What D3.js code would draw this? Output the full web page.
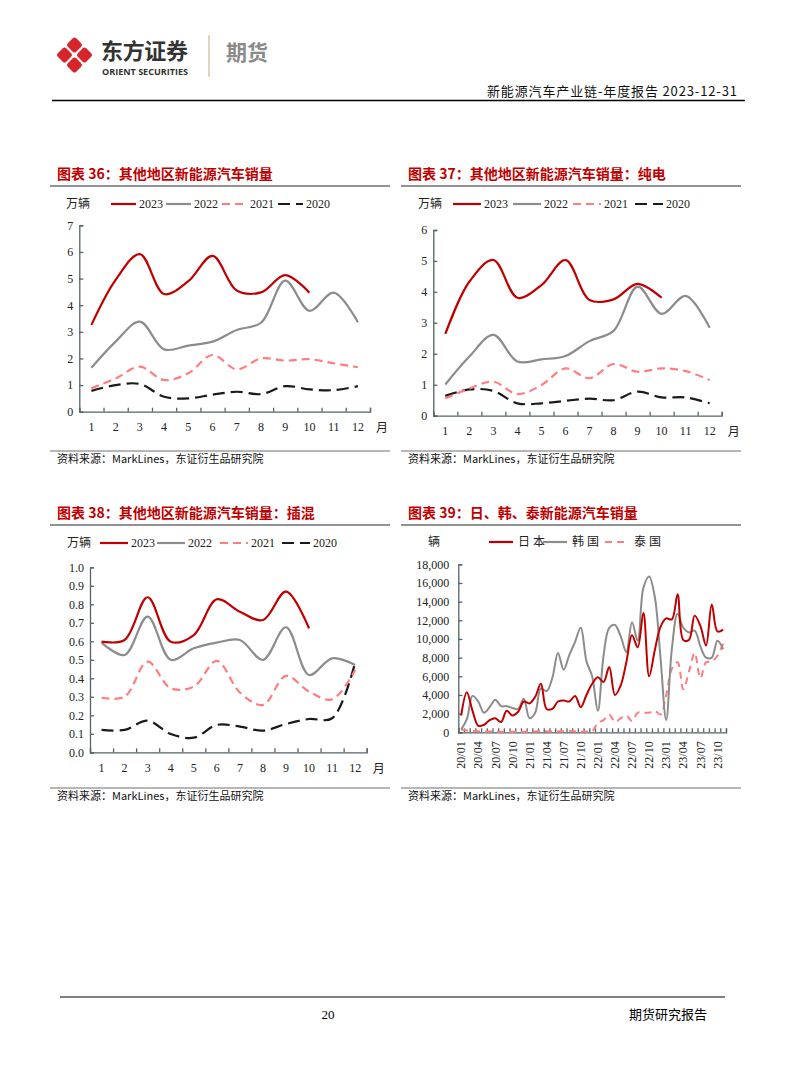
<!DOCTYPE html>
<html><head><meta charset="utf-8">
<script src="https://cdn.jsdelivr.net/npm/d3@7/dist/d3.min.js"></script>
<style>body{margin:0;background:#fff}svg{display:block}</style>
</head><body>
<svg id="page" width="794" height="1077"></svg>
<script>
// ---------------- DATA ----------------
const months = ["1","2","3","4","5","6","7","8","9","10","11","12"];
const yearNames = ["2023","2022","2021","2020"];

const c36Ticks = [0,1,2,3,4,5,6,7];
const c36_2023 = [3.26,4.95,5.92,4.42,4.9,5.85,4.55,4.48,5.13,4.47];
const c36_2022 = [1.65,2.63,3.38,2.34,2.48,2.63,3.07,3.34,4.92,3.79,4.47,3.36];
const c36_2021 = [0.88,1.25,1.69,1.19,1.44,2.13,1.59,2.0,1.92,1.97,1.82,1.67];
const c36_2020 = [0.78,1.0,1.04,0.56,0.5,0.64,0.75,0.66,0.96,0.84,0.81,0.96];

const c37Ticks = [0,1,2,3,4,5,6];
const c37_2023 = [2.64,4.33,5.03,3.81,4.22,5.03,3.74,3.76,4.26,3.81];
const c37_2022 = [1.01,1.91,2.61,1.75,1.82,1.93,2.41,2.74,4.17,3.29,3.87,2.84];
const c37_2021 = [0.56,0.88,1.1,0.7,0.99,1.53,1.21,1.67,1.42,1.53,1.44,1.15];
const c37_2020 = [0.64,0.85,0.8,0.4,0.4,0.48,0.55,0.5,0.78,0.59,0.59,0.4];

const c38Ticks = [0,0.1,0.2,0.3,0.4,0.5,0.6,0.7,0.8,0.9,1.0];
const c38_2023 = [0.598,0.607,0.838,0.598,0.634,0.827,0.76,0.715,0.868,0.67];
const c38_2022 = [0.593,0.526,0.733,0.5,0.562,0.593,0.607,0.5,0.676,0.418,0.508,0.472];
const c38_2021 = [0.295,0.3,0.49,0.346,0.355,0.494,0.323,0.256,0.413,0.328,0.286,0.445];
const c38_2020 = [0.121,0.121,0.171,0.099,0.079,0.148,0.139,0.117,0.153,0.18,0.184,0.485];

const c39Months = ["20/01","20/02","20/03","20/04","20/05","20/06","20/07","20/08","20/09","20/10","20/11","20/12",
  "21/01","21/02","21/03","21/04","21/05","21/06","21/07","21/08","21/09","21/10","21/11","21/12",
  "22/01","22/02","22/03","22/04","22/05","22/06","22/07","22/08","22/09","22/10","22/11","22/12",
  "23/01","23/02","23/03","23/04","23/05","23/06","23/07","23/08","23/09","23/10","23/11"];
const c39Labels = ["20/01","20/04","20/07","20/10","21/01","21/04","21/07","21/10","22/01","22/04","22/07","22/10","23/01","23/04","23/07","23/10"];
const c39Ticks = [0,2000,4000,6000,8000,10000,12000,14000,16000,18000];
const c39Names = ["日本","韩国","泰国"];
const japan = [1800,4300,2300,700,800,1300,1500,1100,2300,1800,2200,3300,
  3100,3800,5200,2500,2500,3300,3400,3300,3900,2700,4000,5200,
  5900,5400,7000,4000,5000,7500,10400,9100,12800,6000,8800,11300,
  12200,12100,14800,9900,9900,12500,11400,9300,13700,10800,11000];
const korea = [300,1400,3900,3300,2100,2700,3500,2800,2800,2600,2500,3600,
  1500,2100,4700,4400,5800,8500,6700,8300,9700,11200,7600,6000,
  2300,8200,11200,11500,10300,8600,11800,9800,15500,16700,14500,8000,
  1300,9000,12700,11200,10700,10900,9200,8000,8000,9800,8900];
const thailand = [300,200,150,100,100,80,80,60,60,60,50,60,
  60,80,150,100,80,100,100,150,100,80,80,100,
  1000,1300,1900,1100,1500,1800,1200,2100,2100,2100,2300,1900,
  4000,6800,7500,4600,6500,8500,5800,7500,7600,8200,9500];

// ---------------- STYLES ----------------
const RED = "#C00000", GRAY = "#8C8C8C", PINK = "#FF7C80", BLACK = "#1A1A1A";
const AXIS = "#566464";
const SERIF = "'Liberation Serif','Times New Roman',serif";
const CJK = "'Noto Sans CJK SC','Noto Sans',sans-serif";
const yearStyles = [
  {color: RED, dash: null},
  {color: GRAY, dash: null},
  {color: PINK, dash: "8,5"},
  {color: BLACK, dash: "12,6"}
];

const svg = d3.select("#page");

// ---------------- HEADER ----------------
const logo = svg.append("g");
[[74.5,45],[64.5,55],[84.5,55],[74.5,65]].forEach(([cx,cy]) => {
  logo.append("rect").attr("x",-6).attr("y",-6).attr("width",12).attr("height",12)
    .attr("rx",2.5).attr("fill","#D7262B")
    .attr("transform",`translate(${cx},${cy}) rotate(45)`);
});
svg.append("text").attr("x",101).attr("y",58.5).attr("font-family",CJK).attr("font-weight",700)
  .attr("font-size",22).attr("fill","#333").attr("textLength",87).text("东方证券");
svg.append("text").attr("x",102).attr("y",75).attr("font-family","'Open Sans','Noto Sans',sans-serif").attr("font-weight",700)
  .attr("font-size",8.5).attr("fill","#333").attr("textLength",86).attr("lengthAdjust","spacingAndGlyphs").text("ORIENT SECURITIES");
svg.append("line").attr("x1",209).attr("x2",209).attr("y1",35).attr("y2",77).attr("stroke","#CDBB9C").attr("stroke-width",1.2);
svg.append("text").attr("x",226).attr("y",60).attr("font-family",CJK).attr("font-weight",700)
  .attr("font-size",21).attr("fill","#8A8A8A").text("期货");
svg.append("text").attr("x",737).attr("y",96).attr("text-anchor","end").attr("font-family",CJK)
  .attr("font-size",13).attr("fill","#111").attr("textLength",250).text("新能源汽车产业链-年度报告 2023-12-31");
svg.append("line").attr("x1",52).attr("x2",745).attr("y1",100.5).attr("y2",100.5).attr("stroke","#000").attr("stroke-width",1.5);

// ---------------- FOOTER ----------------
svg.append("line").attr("x1",60).attr("x2",725).attr("y1",997).attr("y2",997).attr("stroke","#000").attr("stroke-width",1);
svg.append("text").attr("x",328).attr("y",1019).attr("text-anchor","middle").attr("font-family",SERIF)
  .attr("font-size",13).text("20");
svg.append("text").attr("x",707).attr("y",1019).attr("text-anchor","end").attr("font-family",CJK)
  .attr("font-size",13).text("期货研究报告");

// ---------------- HELPERS ----------------
function frame(p) {
  svg.append("text").attr("x",p.left+7).attr("y",p.titleY).attr("dy","0.35em")
    .attr("font-family",CJK).attr("font-weight",700).attr("font-size",14).attr("fill",RED).text(p.title);
  svg.append("line").attr("x1",p.left).attr("x2",p.right).attr("y1",p.titleY+12).attr("y2",p.titleY+12)
    .attr("stroke","#6E6E6E").attr("stroke-width",1.4);
  svg.append("line").attr("x1",p.left).attr("x2",p.right).attr("y1",p.srcY-8).attr("y2",p.srcY-8)
    .attr("stroke","#6E6E6E").attr("stroke-width",1);
  svg.append("text").attr("x",p.left+7).attr("y",p.srcY).attr("dy","0.35em")
    .attr("font-family",CJK).attr("font-size",11).attr("fill","#111").text("资料来源：MarkLines，东证衍生品研究院");
}

function legendItem(x, y, style, label, lineLen, gap) {
  svg.append("line").attr("x1",x).attr("x2",x+lineLen).attr("y1",y).attr("y2",y)
    .attr("stroke",style.color).attr("stroke-width",2.2)
    .attr("stroke-dasharray",style.dash);
  svg.append("text").attr("x",x+lineLen+gap).attr("y",y).attr("dy","0.35em")
    .attr("font-family",style.font || SERIF).attr("font-size",12).attr("fill","#222")
    .attr("letter-spacing",style.ls || 0).text(label);
}

function styleAxis(g) {
  g.select(".domain").attr("stroke",AXIS).attr("stroke-width",1.3);
  g.selectAll(".tick line").attr("stroke",AXIS).attr("stroke-width",1.3);
  g.selectAll("text").attr("font-family",SERIF).attr("font-size",12).attr("fill","#222");
}

function monthlyChart(p) {
  frame(p);
  const x = d3.scaleBand().domain(months).range([p.x0,p.x1]).padding(0);
  const xb = d3.scaleLinear().domain([0,months.length]).range([p.x0,p.x1]);
  const y = d3.scaleLinear().domain([p.ticks[0], p.ticks[p.ticks.length-1]]).range([p.yBot,p.yTop]);

  const gy = svg.append("g").attr("transform",`translate(${p.x0},0)`)
    .call(d3.axisLeft(y).tickValues(p.ticks).tickSize(-4).tickPadding(6).tickFormat(p.fmt));
  styleAxis(gy);
  const gx = svg.append("g").attr("transform",`translate(0,${p.yBot})`)
    .call(d3.axisBottom(x).tickSize(0).tickPadding(11));
  styleAxis(gx);
  gx.select(".domain").remove();
  const gb = svg.append("g").attr("transform",`translate(0,${p.yBot})`)
    .call(d3.axisBottom(xb).tickValues(d3.range(months.length+1)).tickSize(-4).tickFormat(""));
  styleAxis(gb);
  svg.append("text").attr("x",p.x1+6).attr("y",p.yBot+16).attr("dy","0.35em")
    .attr("font-family",CJK).attr("font-size",12).attr("fill","#222").text("月");

  const line = d3.line()
    .x((d,i) => x(months[i]) + x.bandwidth()/2)
    .y(d => y(d))
    .curve(d3.curveCatmullRom.alpha(0.5));
  p.series.slice().reverse().forEach((vals, ri) => {
    const st = yearStyles[p.series.length-1-ri];
    svg.append("path").datum(vals).attr("d",line).attr("fill","none")
      .attr("stroke",st.color).attr("stroke-width",2.2)
      .attr("stroke-dasharray",st.dash).attr("stroke-linejoin","round");
  });

  svg.append("text").attr("x",p.leg.unit).attr("y",p.leg.y).attr("dy","0.35em")
    .attr("font-family",CJK).attr("font-size",12).attr("fill","#222").text("万辆");
  p.leg.xs.forEach((lx,i) => legendItem(lx, p.leg.y, yearStyles[i], yearNames[i], p.leg.len, 3));
}

// ---------------- CHARTS 36-38 ----------------
monthlyChart({
  left:50, right:390, title:"图表 36：其他地区新能源汽车销量", titleY:174, srcY:459,
  x0:79.3, x1:370, yTop:225.3, yBot:411.7, ticks:c36Ticks, fmt:d3.format("d"),
  series:[c36_2023,c36_2022,c36_2021,c36_2020],
  leg:{y:204, unit:66, xs:[111,166,222,278], len:25}
});
monthlyChart({
  left:401, right:741, title:"图表 37：其他地区新能源汽车销量：纯电", titleY:174, srcY:459,
  x0:433.3, x1:721.7, yTop:230, yBot:415.7, ticks:c37Ticks, fmt:d3.format("d"),
  series:[c37_2023,c37_2022,c37_2021,c37_2020],
  leg:{y:204, unit:418, xs:[453,513,573,635], len:28}
});
monthlyChart({
  left:50, right:390, title:"图表 38：其他地区新能源汽车销量：插混", titleY:513, srcY:796,
  x0:90, x1:366.7, yTop:567.3, yBot:752.3, ticks:c38Ticks, fmt:d3.format(".1f"),
  series:[c38_2023,c38_2022,c38_2021,c38_2020],
  leg:{y:543, unit:67, xs:[100,157,220,282], len:28}
});

// ---------------- CHART 39 ----------------
(function(){
  const p = {left:401, right:741, title:"图表 39：日、韩、泰新能源汽车销量", titleY:513, srcY:796};
  frame(p);
  const x0 = 458.3, x1 = 726, yTop = 564.3, yBot = 732.3;
  const x = d3.scaleBand().domain(c39Months).range([x0,x1]).padding(0);
  const xb = d3.scaleLinear().domain([0,c39Months.length]).range([x0,x1]);
  const y = d3.scaleLinear().domain([0,18000]).range([yBot,yTop]);

  const gy = svg.append("g").attr("transform",`translate(${x0},0)`)
    .call(d3.axisLeft(y).tickValues(c39Ticks).tickSize(-4).tickPadding(9).tickFormat(d3.format(",")));
  styleAxis(gy);
  const gb = svg.append("g").attr("transform",`translate(0,${yBot})`)
    .call(d3.axisBottom(xb).tickValues(d3.range(c39Months.length+1)).tickSize(-4).tickFormat(""));
  styleAxis(gb);
  const gx = svg.append("g").attr("transform",`translate(0,${yBot})`)
    .call(d3.axisBottom(x).tickValues(c39Labels).tickSize(0));
  styleAxis(gx);
  gx.select(".domain").remove();
  gx.selectAll(".tick text").attr("transform","rotate(-90)").attr("text-anchor","end")
    .attr("x",-9).attr("y",0).attr("dy","0.35em");

  const line = d3.line()
    .x((d,i) => x(c39Months[i]) + x.bandwidth()/2)
    .y(d => y(d))
    .curve(d3.curveCatmullRom.alpha(0.5));
  const sty = [{color:RED,dash:null},{color:GRAY,dash:null},{color:PINK,dash:"7,5"}];
  [[thailand,2],[korea,1],[japan,0]].forEach(([vals,si]) => {
    svg.append("path").datum(vals).attr("d",line).attr("fill","none")
      .attr("stroke",sty[si].color).attr("stroke-width",2)
      .attr("stroke-dasharray",sty[si].dash).attr("stroke-linejoin","round");
  });

  svg.append("text").attr("x",428).attr("y",542).attr("dy","0.35em")
    .attr("font-family",CJK).attr("font-size",12).attr("fill","#222").text("辆");
  [489,543,605].forEach((lx,i) => legendItem(lx, 542,
    Object.assign({}, sty[i], {font:CJK, ls:3}), c39Names[i], 24, 5));
})();
</script>
</body></html>
